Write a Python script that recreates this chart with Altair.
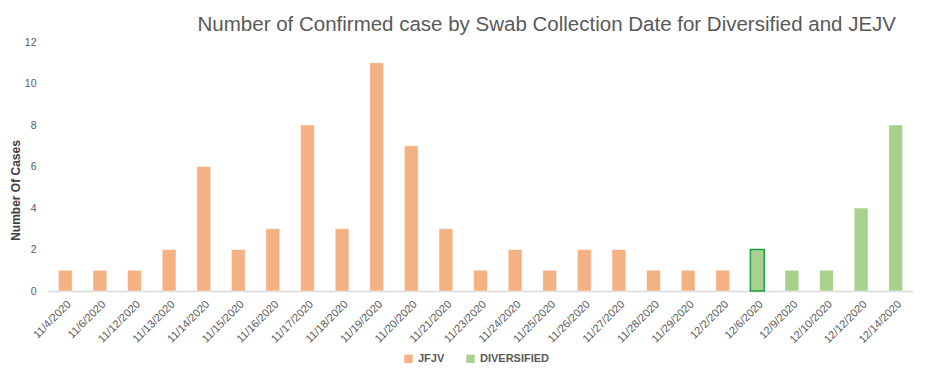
import altair as alt
import pandas as pd

dates = ["11/4/2020", "11/6/2020", "11/12/2020", "11/13/2020", "11/14/2020", "11/15/2020",
         "11/16/2020", "11/17/2020", "11/18/2020", "11/19/2020", "11/20/2020", "11/21/2020",
         "11/23/2020", "11/24/2020", "11/25/2020", "11/26/2020", "11/27/2020", "11/28/2020",
         "11/29/2020", "12/2/2020", "12/6/2020", "12/9/2020", "12/10/2020", "12/12/2020",
         "12/14/2020"]
cases = [1, 1, 1, 2, 6, 2, 3, 8, 3, 11, 7, 3, 1, 2, 1, 2, 2, 1, 1, 1, 2, 1, 1, 4, 8]
groups = ["JFJV"] * 20 + ["DIVERSIFIED"] * 5
highlighted = ["12/6/2020"]

df = pd.DataFrame({"date": dates, "cases": cases, "group": groups})

gray = "#595959"

bars = alt.Chart(df).mark_bar(strokeWidth=1).encode(
    x=alt.X("date:N", sort=dates,
            scale=alt.Scale(paddingInner=0.6, paddingOuter=0.3),
            axis=alt.Axis(title=None, labelAngle=-45, labelFontSize=11, labelColor=gray,
                          labelFont="Liberation Sans", ticks=False, domainColor="#D9D9D9",
                          domainWidth=1.5, labelPadding=7)),
    y=alt.Y("cases:Q", scale=alt.Scale(domain=[0, 12]),
            axis=alt.Axis(values=[0, 2, 4, 6, 8, 10, 12], title="Number Of Cases",
                          titleFontSize=12, titleFontWeight="bold", titleColor="#404040",
                          titleFont="Liberation Sans", titleX=-26, titleY=148,
                          labelFontSize=10.5, labelColor=gray, labelFont="Liberation Sans",
                          ticks=False, domain=False, grid=False, labelPadding=12)),
    color=alt.Color("group:N", sort=["JFJV", "DIVERSIFIED"],
                    scale=alt.Scale(domain=["JFJV", "DIVERSIFIED"], range=["#F4B183", "#A9D18E"]),
                    legend=alt.Legend(title=None, orient="none", direction="horizontal",
                                      legendX=355, legendY=311, symbolType="square",
                                      symbolSize=70, labelFontSize=11, labelFontWeight="bold",
                                      labelColor=gray, labelFont="Liberation Sans",
                                      columnPadding=20, symbolStrokeWidth=0)),
    stroke=alt.condition(alt.FieldOneOfPredicate(field="date", oneOf=highlighted),
                         alt.value("#1E9E48"), alt.value("#FFFFFF")),
    strokeWidth=alt.condition(alt.FieldOneOfPredicate(field="date", oneOf=highlighted),
                              alt.value(1.5), alt.value(0.5)),
).properties(
    width=865, height=249,
    title=alt.TitleParams("Number of Confirmed case by Swab Collection Date for Diversified and JEJV",
                          fontSize=20.5, fontWeight="normal", color=gray, font="Liberation Sans",
                          anchor="end", dx=-17, offset=2),
    padding={"left": 40, "top": 34, "right": 24, "bottom": 73},
    autosize=alt.AutoSizeParams(type="none"),
).configure_view(stroke=None)

bars.save("out.html", embed_options={"renderer": "svg", "actions": False})
